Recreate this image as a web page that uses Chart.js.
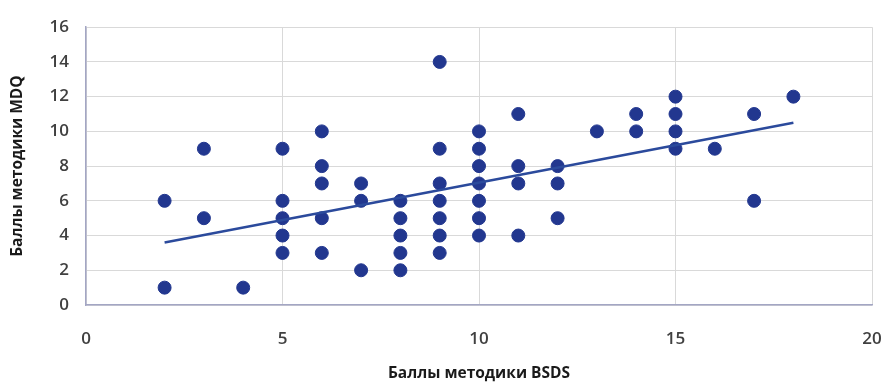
<!DOCTYPE html>
<html>
<head>
<meta charset="utf-8">
<script src="https://cdn.jsdelivr.net/npm/chart.js@4.4.1/dist/chart.umd.min.js"></script>
<style>
  html, body { margin: 0; padding: 0; background: #fff; }
  #wrap { width: 888px; height: 387px; }
</style>
</head>
<body>
<div id="wrap"><canvas id="scatterChart"></canvas></div>
<script>
// Баллы методики BSDS (x) и MDQ (y)
const bsds = [2, 2, 3, 3, 4,
  5, 5, 5, 5, 5,
  6, 6, 6, 6, 6,
  7, 7, 7,
  8, 8, 8, 8, 8,
  9, 9, 9, 9, 9, 9, 9,
  10, 10, 10, 10, 10, 10, 10,
  11, 11, 11, 11,
  12, 12, 12,
  13, 14, 14,
  15, 15, 15, 15,
  16, 17, 17, 18];
const mdq = [6, 1, 9, 5, 1,
  9, 6, 5, 4, 3,
  10, 8, 7, 5, 3,
  7, 6, 2,
  6, 5, 4, 3, 2,
  14, 9, 7, 6, 5, 4, 3,
  10, 9, 8, 7, 6, 5, 4,
  11, 8, 7, 4,
  8, 7, 5,
  10, 11, 10,
  12, 11, 10, 9,
  9, 11, 6, 12];
// линия тренда (по рисунку)
const trendX = [2, 18];
const trendY = [3.6, 10.5];

const points = bsds.map((x, i) => ({ x: x, y: mdq[i] }));
const trend = trendX.map((x, i) => ({ x: x, y: trendY[i] }));

const tickFont = { family: 'Open Sans', size: 17, weight: '600' };
const titleFont = { family: 'Open Sans', size: 15.5, weight: 'bold' };

const ctx = document.getElementById('scatterChart').getContext('2d');
const scatterChart = new Chart(ctx, {
    type: 'scatter',
    data: {
        datasets: [{
            label: 'MDQ',
            data: points,
            backgroundColor: '#22378f',
            borderColor: '#22378f',
            pointRadius: 6.5,
            pointHoverRadius: 6.5,
            order: 2
        }, {
            label: 'Линейная',
            type: 'line',
            data: trend,
            borderColor: '#2b4a9c',
            borderWidth: 2.5,
            pointRadius: 0,
            fill: false,
            order: 1
        }]
    },
    options: {
        responsive: true,
        maintainAspectRatio: false,
        animation: false,
        layout: { padding: { top: 23, right: 0, left: 0, bottom: 0 } },
        scales: {
            x: {
                type: 'linear',
                min: 0,
                max: 20,
                ticks: {
                    stepSize: 5,
                    color: '#404040',
                    font: tickFont,
                    padding: 24
                },
                grid: { color: '#d9d9d9', drawTicks: false },
                border: { color: '#a3a6c4', width: 1.5 },
                title: {
                    display: true,
                    text: 'Баллы методики BSDS',
                    color: '#1a1a1a',
                    font: titleFont,
                    padding: { top: 3 }
                },
                afterFit: (scale) => {
                    scale.height = 82;
                    scale.paddingRight = 16;
                }
            },
            y: {
                min: 0,
                max: 16,
                ticks: {
                    stepSize: 2,
                    color: '#404040',
                    font: tickFont,
                    padding: 17
                },
                grid: { color: '#d9d9d9', drawTicks: false },
                border: { color: '#a3a6c4', width: 1.5 },
                title: {
                    display: true,
                    text: 'Баллы методики MDQ',
                    color: '#1a1a1a',
                    font: titleFont,
                    padding: { top: 8, bottom: 8 }
                },
                afterFit: (scale) => { scale.width = 86; }
            }
        },
        plugins: {
            legend: { display: false },
            tooltip: { enabled: false }
        }
    }
});
</script>
</body>
</html>
